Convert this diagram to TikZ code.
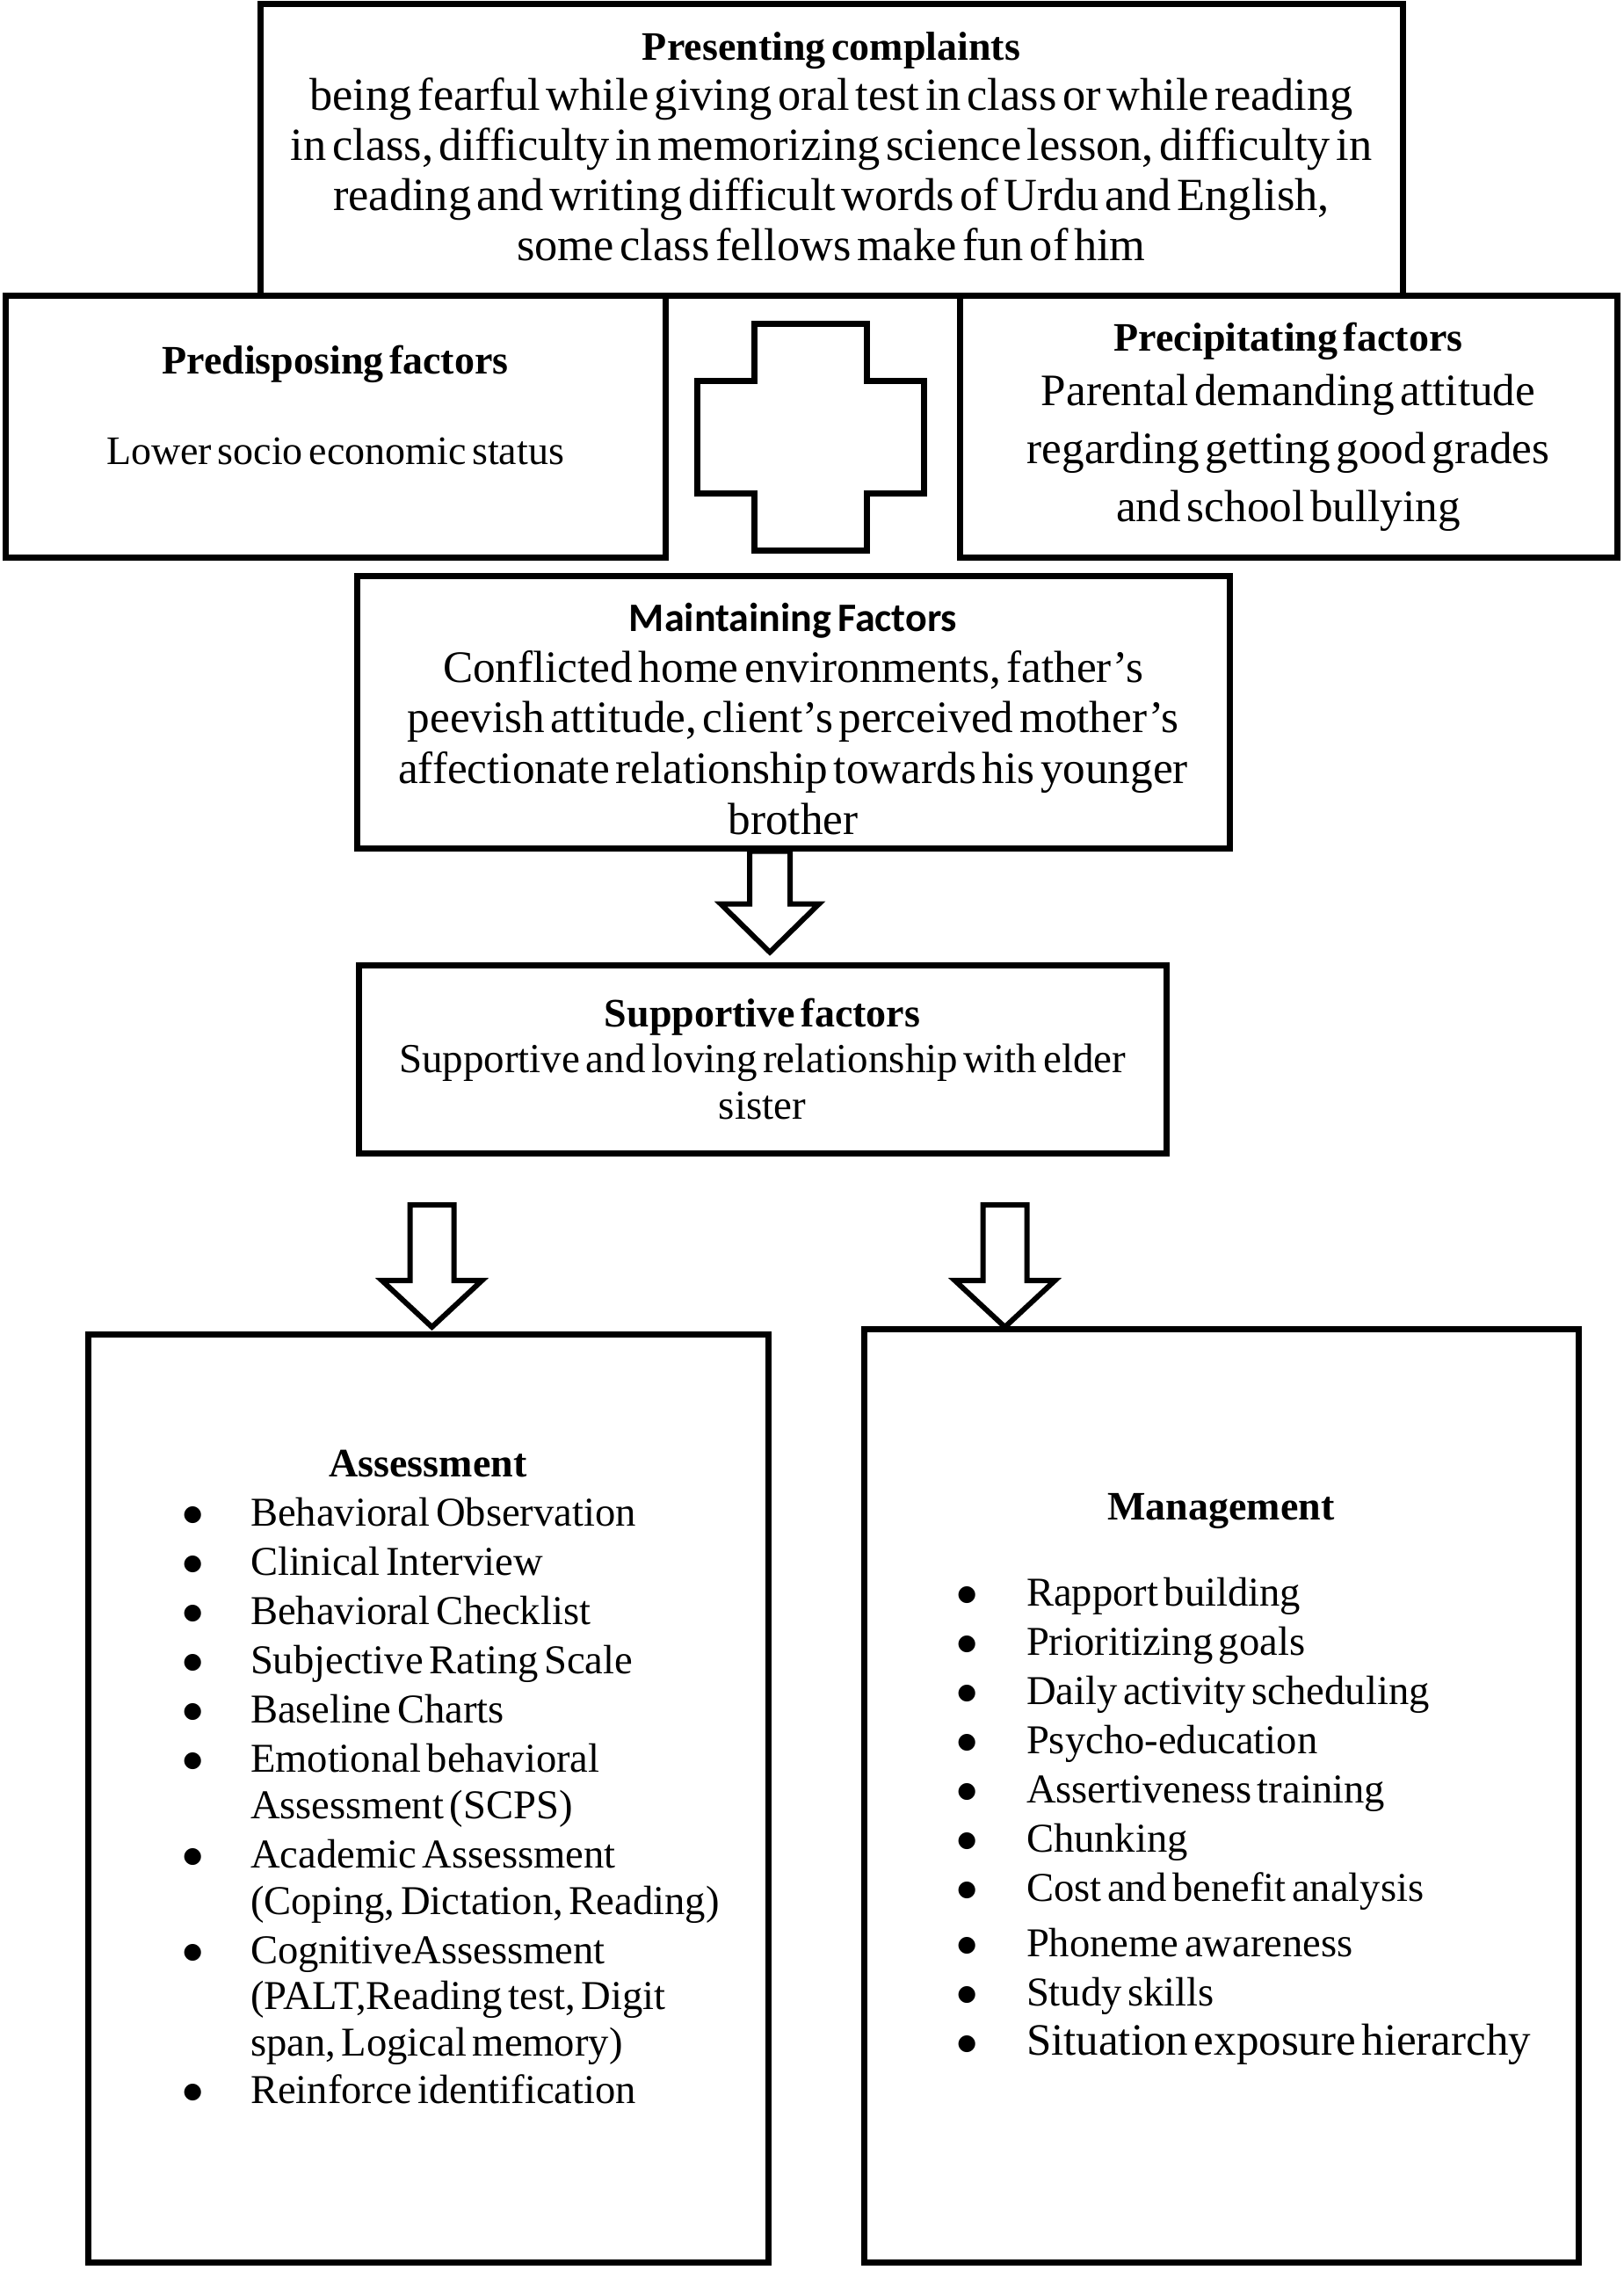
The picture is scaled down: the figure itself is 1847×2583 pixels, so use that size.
\documentclass[tikz,border=0pt]{standalone}
\usepackage{fontspec}
\setmainfont{Liberation Serif}
\newfontfamily\calibrifont{Carlito}
\newfontfamily\dotfont{DejaVu Sans}
\usetikzlibrary{calc}

\newcommand{\listdot}{\raisebox{3pt}{\dotfont\fontsize{12.5}{12.5}\selectfont ●}}
\newcommand{\padbelow}[1]{\par\nointerlineskip\vskip #1\hbox{}}

\tikzset{
  factorbox/.style={draw, line width=3.5pt, rectangle, inner sep=0pt, align=center},
  hollowarrow/.style={draw, line width=3pt, fill=white, line join=miter},
  plusshape/.style={draw, line width=3.5pt, line join=miter},
}

\begin{document}
\begin{tikzpicture}[x=0.5pt, y=-0.5pt]
	\useasboundingbox (0,0) rectangle (1847,2583);

	\node 	(pres)	at	(946,171)	[factorbox, minimum width=650pt, minimum height=166pt, text width=640pt]{%
		{\fontsize{23}{28.5}\selectfont\bfseries Presenting complaints\par}
		\fontsize{26.2}{28.5}\selectfont being fearful while giving oral test in class or while reading\\
		in class, difficulty in memorizing science lesson, difficulty in\\
		reading and writing difficult words of Urdu and English,\\
		some class fellows make fun of him\par
		\padbelow{4pt}};


	\node 	(pred)	at	(381.5,485.5)	[factorbox, minimum width=375.5pt, minimum height=148.5pt, text width=360pt]{%
		{\fontsize{23}{28}\selectfont\bfseries Predisposing factors\par}
		\vspace{23.6pt}
		\fontsize{23}{28}\selectfont Lower socio economic status\par
		\padbelow{24.7pt}};

	\node 	(prec)	at	(1466,485.5)	[factorbox, minimum width=374pt, minimum height=148.5pt, text width=360pt]{%
		{\fontsize{23}{28}\selectfont\bfseries Precipitating factors\par}
		\vspace{-2pt}
		\fontsize{25.6}{33}\selectfont Parental demanding attitude\\
		regarding getting good grades\\
		and school bullying\par};

	% the plus between the two factor boxes
	\coordinate (plus) at (922.5,497.5);
	\draw[plusshape] (plus) ++(-64,-129) -- ++(128,0) -- ++(0,65) -- ++(65,0) -- ++(0,128) -- ++(-65,0)
		-- ++(0,65) -- ++(-128,0) -- ++(0,-65) -- ++(-65,0) -- ++(0,-128) -- ++(65,0) -- cycle;


	\node 	(maint)	at	(902.5,810)	[factorbox, minimum width=496.5pt, minimum height=155pt, text width=490pt]{%
		{\calibrifont\fontsize{23}{28.8}\selectfont\bfseries Maintaining Factors\par}
		\fontsize{25.6}{28.8}\selectfont Conflicted home environments, father’s\\
		peevish attitude, client’s perceived mother’s\\
		affectionate relationship towards his younger\\
		brother\par
		\padbelow{-8pt}};

	\node 	(supp)	at	(867.5,1205)	[factorbox, minimum width=459.5pt, minimum height=107pt, text width=450pt]{%
		{\fontsize{23}{26.4}\selectfont\bfseries Supportive factors\par}
		\fontsize{23.5}{26.4}\selectfont Supportive and loving relationship with elder\\
		sister\par};

	\draw[hollowarrow]	($(maint.south)+(-49.5,0)$) -- ++(0,60) -- ++(-33,0) -- ++(56,55) -- ++(56,-55) -- ++(-33,0) -- ++(0,-60) -- cycle;

%

	\node 	(assess)	at	(487,2046)	[factorbox, minimum width=387pt, minimum height=528pt, text width=387pt]{%
		{\fontsize{23}{28}\selectfont\bfseries Assessment\par}
		\fontsize{23.3}{28}\selectfont\raggedright
		\noindent\hspace*{54.2pt}\begin{tabular}[t]{@{}p{38.3pt}@{}l@{}}
			\listdot	& Behavioral Observation\\
			\listdot	& Clinical Interview\\
			\listdot	& Behavioral Checklist\\
			\listdot	& Subjective Rating Scale\\
			\listdot	& Baseline Charts\\
			\listdot	& Emotional behavioral\\[-1.6pt]
						& Assessment (SCPS)\\
			\listdot	& Academic Assessment\\[-1.6pt]
						& (Coping, Dictation, Reading)\\
			\listdot	& CognitiveAssessment\\[-1.6pt]
						& (PALT,Reading test, Digit\\[-1.6pt]
						& span, Logical memory)\\[-1pt]
			\listdot	& Reinforce identification
		\end{tabular}\par
		\padbelow{15.7pt}};

	\node 	(manag)	at	(1389.5,2043)	[factorbox, minimum width=406.5pt, minimum height=531pt, text width=406.5pt]{%
		{\fontsize{23}{28}\selectfont\bfseries Management\par}
		\vspace{21pt}
		\fontsize{23.3}{28}\selectfont\raggedright
		\noindent\hspace*{53.2pt}\begin{tabular}[t]{@{}p{39.3pt}@{}l@{}}
			\listdot	& Rapport building\\
			\listdot	& Prioritizing goals\\
			\listdot	& Daily activity scheduling\\
			\listdot	& Psycho-education\\
			\listdot	& Assertiveness training\\
			\listdot	& Chunking\\
			\listdot	& Cost and benefit analysis\\[3.5pt]
			\listdot	& Phoneme awareness\\
			\listdot	& Study skills\\
			\listdot	& {\fontsize{25.5}{28}\selectfont Situation exposure hierarchy}
		\end{tabular}\par
		\padbelow{15.7pt}};

	\draw[hollowarrow]	($(assess.north)+(-20.5,-143.5)$) -- ++(0,86) -- ++(-32,0) -- ++(57,53) -- ++(57,-53) -- ++(-32,0) -- ++(0,-86) -- cycle;
	\draw[hollowarrow]	($(manag.north)+(-271,-137.5)$) -- ++(0,86) -- ++(-32,0) -- ++(57,53) -- ++(57,-53) -- ++(-32,0) -- ++(0,-86) -- cycle;

\end{tikzpicture}
\end{document}
